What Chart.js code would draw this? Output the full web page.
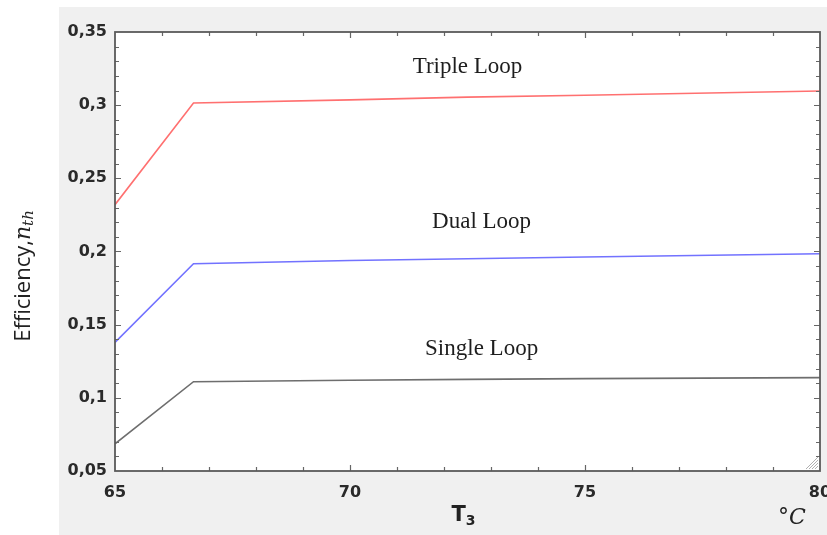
<!DOCTYPE html>
<html>
<head>
<meta charset="utf-8">
<script src="https://cdn.jsdelivr.net/npm/chart.js@4.4.1/dist/chart.umd.min.js"></script>
<style>
  html, body { margin: 0; padding: 0; background: #ffffff; }
  #wrap { width: 827px; height: 535px; }
</style>
</head>
<body>
<div id="wrap"><canvas id="c" width="827" height="535"></canvas></div>
<script>
// Temperature T3 (°C) sample points
const temps = [65, 66.67, 70, 72.5, 75, 80];

// Thermal efficiency for each cycle configuration
const tripleLoop = [0.232, 0.3015, 0.3036, 0.3055, 0.3068, 0.3097];
const dualLoop   = [0.1379, 0.1916, 0.1938, 0.1950, 0.1962, 0.1985];
const singleLoop = [0.0686, 0.1110, 0.1120, 0.1126, 0.1131, 0.1138];

// Axis ranges and tick spacing
const xRange = [65, 80];
const yRange = [0.05, 0.35];
const xMajor = 5, xMinor = 1;
const yMajor = 0.05, yMinor = 0.01;

// Curve labels: [text, x, y] in data units
const curveLabels = [
  ['Triple Loop', 72.5, 0.3262],
  ['Dual Loop', 72.8, 0.2200],
  ['Single Loop', 72.8, 0.1335]
];

const toPoints = ys => temps.map((t, i) => ({ x: t, y: ys[i] }));

const frame = {
  id: 'frame',
  beforeDraw(chart) {
    const { ctx, chartArea: a } = chart;
    ctx.save();
    ctx.fillStyle = '#ffffff';
    ctx.fillRect(0, 0, chart.width, chart.height);
    ctx.fillStyle = '#f0f0f0';
    ctx.fillRect(59, 7, chart.width - 59, chart.height - 7);
    ctx.fillStyle = '#ffffff';
    ctx.fillRect(a.left, a.top, a.right - a.left, a.bottom - a.top);
    ctx.restore();
  },
  afterDraw(chart) {
    const { ctx, chartArea: a, scales } = chart;
    const xs = scales.x, ys = scales.y;
    ctx.save();

    // inward tick marks on all four sides
    ctx.strokeStyle = '#666666';
    ctx.lineWidth = 1.2;
    ctx.beginPath();
    const ny = Math.round((yRange[1] - yRange[0]) / yMinor);
    for (let i = 1; i < ny; i++) {
      const v = yRange[0] + i * yMinor;
      const len = (i % Math.round(yMajor / yMinor) === 0) ? 6 : 4;
      const py = Math.round(ys.getPixelForValue(v)) + 0.5;
      ctx.moveTo(a.left, py); ctx.lineTo(a.left + len, py);
      ctx.moveTo(a.right, py); ctx.lineTo(a.right - len, py);
    }
    const nx = Math.round((xRange[1] - xRange[0]) / xMinor);
    for (let i = 1; i < nx; i++) {
      const v = xRange[0] + i * xMinor;
      const len = (i % Math.round(xMajor / xMinor) === 0) ? 6 : 4;
      const px = Math.round(xs.getPixelForValue(v)) + 0.5;
      ctx.moveTo(px, a.bottom); ctx.lineTo(px, a.bottom - len);
      ctx.moveTo(px, a.top); ctx.lineTo(px, a.top + len);
    }
    ctx.stroke();

    // plot frame
    ctx.strokeStyle = '#5a5a5a';
    ctx.lineWidth = 1.8;
    ctx.strokeRect(a.left, a.top, a.right - a.left, a.bottom - a.top);

    // corner grip
    ctx.strokeStyle = '#b0b0b0';
    ctx.lineWidth = 1;
    ctx.beginPath();
    for (let k = 3; k <= 12; k += 3) {
      ctx.moveTo(a.right - 2, a.bottom - 2 - k);
      ctx.lineTo(a.right - 2 - k, a.bottom - 2);
    }
    ctx.stroke();

    // curve labels
    ctx.fillStyle = '#1e1e1e';
    ctx.font = '23px "Liberation Serif", "DejaVu Serif", serif';
    ctx.textAlign = 'center';
    ctx.textBaseline = 'middle';
    curveLabels.forEach(([txt, vx, vy]) => {
      ctx.fillText(txt, xs.getPixelForValue(vx), ys.getPixelForValue(vy));
    });

    // x axis title T3
    const cx = (a.left + a.right) / 2 - 4;
    ctx.textAlign = 'left';
    ctx.textBaseline = 'alphabetic';
    ctx.fillStyle = '#222222';
    ctx.font = 'bold 21px "DejaVu Sans", sans-serif';
    const tw = ctx.measureText('T').width;
    ctx.font = 'bold 14px "DejaVu Sans", sans-serif';
    const sw = ctx.measureText('3').width;
    const start = cx - (tw + sw) / 2;
    ctx.font = 'bold 21px "DejaVu Sans", sans-serif';
    ctx.fillText('T', start, 521);
    ctx.font = 'bold 14px "DejaVu Sans", sans-serif';
    ctx.fillText('3', start + tw, 525);

    // unit
    ctx.font = 'italic 22px "DejaVu Serif", serif';
    ctx.textAlign = 'center';
    ctx.fillText('°C', 792, 524);

    // y axis title, rotated
    ctx.translate(24, 276);
    ctx.rotate(-Math.PI / 2);
    ctx.fillStyle = '#222222';
    const f1 = '22px "Open Sans", sans-serif';
    const f2 = 'italic 22px "DejaVu Serif", serif';
    const f3 = 'italic 15px "DejaVu Serif", serif';
    ctx.font = f1; const w1 = ctx.measureText('Efficiency,').width;
    ctx.font = f2; const w2 = ctx.measureText('n').width;
    ctx.font = f3; const w3 = ctx.measureText('th').width;
    let sx = -(w1 + w2 + w3) / 2;
    ctx.textAlign = 'left';
    ctx.textBaseline = 'middle';
    ctx.font = f1; ctx.fillText('Efficiency,', sx, 0); sx += w1;
    ctx.font = f2; ctx.fillText('n', sx, 0); sx += w2;
    ctx.font = f3; ctx.fillText('th', sx, 5);
    ctx.restore();
  }
};

const tickFont = { family: '"DejaVu Sans", sans-serif', size: 16, weight: 'bold' };

new Chart(document.getElementById('c'), {
  type: 'line',
  data: {
    datasets: [
      { label: 'Triple Loop', data: toPoints(tripleLoop), borderColor: '#ff7070' },
      { label: 'Dual Loop', data: toPoints(dualLoop), borderColor: '#7272ff' },
      { label: 'Single Loop', data: toPoints(singleLoop), borderColor: '#6e6e6e' }
    ]
  },
  options: {
    responsive: false,
    animation: false,
    events: [],
    layout: { padding: { left: 0, top: 32, right: 7, bottom: 0 } },
    elements: {
      point: { radius: 0 },
      line: { borderWidth: 1.6, tension: 0 }
    },
    plugins: { legend: { display: false }, tooltip: { enabled: false } },
    scales: {
      x: {
        type: 'linear',
        min: xRange[0], max: xRange[1],
        grid: { display: false, drawTicks: false },
        border: { display: false },
        ticks: { stepSize: xMajor, font: tickFont, color: '#2a2a2a', padding: 12, maxRotation: 0 },
        afterFit(s) { s.height = 64; s.paddingLeft = 0; s.paddingRight = 0; }
      },
      y: {
        type: 'linear',
        min: yRange[0], max: yRange[1],
        grid: { display: false, drawTicks: false },
        border: { display: false },
        ticks: {
          stepSize: yMajor, font: tickFont, color: '#2a2a2a', padding: 8,
          callback: v => String(parseFloat(v.toFixed(2))).replace('.', ',')
        },
        afterFit(s) { s.width = 115; s.paddingTop = 0; s.paddingBottom = 0; }
      }
    }
  },
  plugins: [frame]
});
</script>
</body>
</html>
